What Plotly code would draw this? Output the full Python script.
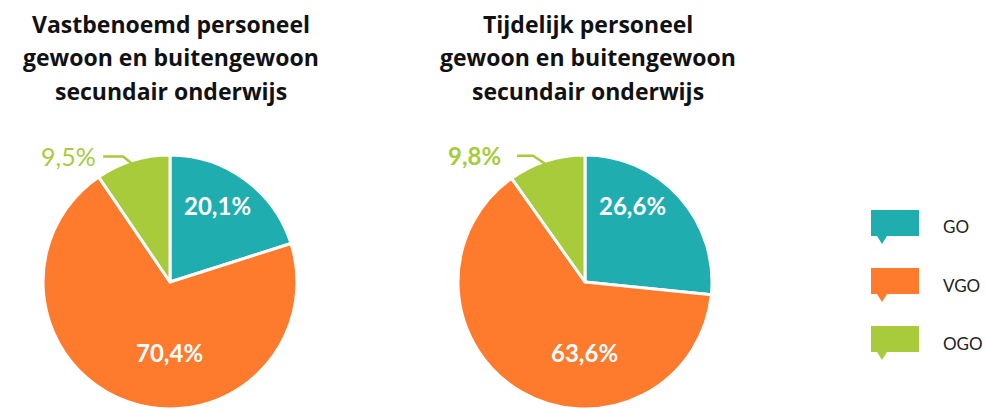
import math
import plotly.graph_objects as go

# ---- data ----
categories = ["GO", "VGO", "OGO"]
vast_values = [20.1, 70.4, 9.5]
tijd_values = [26.6, 63.6, 9.8]
title_vast = ["Vastbenoemd personeel", "gewoon en buitengewoon", "secundair onderwijs"]
title_tijd = ["Tijdelijk personeel", "gewoon en buitengewoon", "secundair onderwijs"]

# ---- style ----
W, H = 986, 409
colors = ["#1FADB0", "#FE7A2C", "#A7CB3B"]
FONT = "Lato"
TFONT = "Open Sans"
# inside label offsets (in units of radius) from pie centre, per category
inside_offsets = [(0.375, -0.606), (-0.005, 0.555)]

def fmt(v):
    return f"{v:.1f}".replace(".", ",") + "%"

fig = go.Figure()

pies = [
    dict(values=vast_values, title=title_vast, cx=170, tx=171, r=127, out_bold=False,
         out_size=25, elbow=(-11, -9), hlen=20, gap=5),
    dict(values=tijd_values, title=title_tijd, cx=585, tx=588, r=127, out_bold=True,
         out_size=24, elbow=(-15, -10), hlen=16, gap=14),
]

def px(x):
    return x / W

def py(y):
    return 1 - y / H

for p in pies:
    cx, r = p["cx"], p["r"]
    cy = H - r
    vals = p["values"]
    fig.add_trace(go.Pie(
        labels=categories, values=vals, sort=False, direction="clockwise", rotation=0,
        marker=dict(colors=colors, line=dict(color="white", width=3)),
        textinfo="none",
        domain=dict(x=[px(cx - r), px(cx + r)], y=[0, 2 * r / H]),
        showlegend=False, hoverinfo="label+percent",
    ))
    # inside labels for the first two slices
    for (ox, oy), v in zip(inside_offsets, vals[:2]):
        fig.add_annotation(x=px(cx + ox * r), y=py(cy + oy * r), xref="paper", yref="paper",
                           text=fmt(v), showarrow=False, xanchor="center", yanchor="middle",
                           font=dict(family=FONT, size=24, color="white", weight="bold"))
    # outside label for the last slice, placed from its mid-angle
    total = sum(vals)
    start = sum(vals[:2]) / total
    mid = (start + vals[2] / total / 2) * 2 * math.pi
    ex = cx + 0.96 * r * math.sin(mid)
    ey = cy - 0.96 * r * math.cos(mid)
    elx, ely = ex + p["elbow"][0], ey + p["elbow"][1]
    hx = elx - p["hlen"]
    fig.add_shape(type="path",
                  path=f"M {px(ex)} {py(ey)} L {px(elx)} {py(ely)} L {px(hx)} {py(ely)}",
                  xref="paper", yref="paper", line=dict(color=colors[2], width=2.5))
    fig.add_annotation(x=px(hx - p["gap"]), y=py(ely), xref="paper", yref="paper",
                       text=fmt(vals[2]), showarrow=False, xanchor="right", yanchor="middle",
                       font=dict(family=FONT, size=p["out_size"], color=colors[2],
                                 weight="bold" if p["out_bold"] else "normal"))
    # title lines
    for i, line in enumerate(p["title"]):
        fig.add_annotation(x=px(p["tx"]), y=py(24 + 33.5 * i), xref="paper", yref="paper",
                           text=line, showarrow=False, xanchor="center", yanchor="middle",
                           font=dict(family=TFONT, size=23, color="#111111", weight="bold"))

# custom legend with speech-bubble icons
for i, (cat, col) in enumerate(zip(categories, colors)):
    top = 210 + 58 * i
    x0, x1, y1 = 871, 919, top + 26
    fig.add_shape(type="path",
                  path=(f"M {px(x0)} {py(top)} L {px(x1)} {py(top)} L {px(x1)} {py(y1)} "
                        f"L {px(887)} {py(y1)} L {px(882)} {py(y1 + 8)} L {px(877)} {py(y1)} "
                        f"L {px(x0)} {py(y1)} Z"),
                  xref="paper", yref="paper", fillcolor=col, line=dict(width=0))
    fig.add_annotation(x=px(941), y=py(top + 17), xref="paper", yref="paper", text=cat,
                       showarrow=False, xanchor="left", yanchor="middle",
                       font=dict(family=FONT, size=17, color="#222222"))

fig.update_layout(width=W, height=H, margin=dict(l=0, r=0, t=0, b=0),
                  paper_bgcolor="white", plot_bgcolor="white")
fig.write_html("out.html")
